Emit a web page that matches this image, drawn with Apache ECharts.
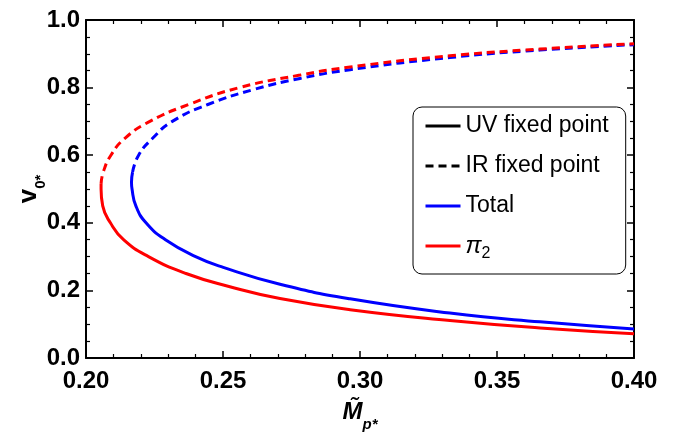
<!DOCTYPE html>
<html>
<head>
<meta charset="utf-8">
<script src="https://cdn.jsdelivr.net/npm/echarts@6/dist/echarts.min.js"></script>
<style>html,body{margin:0;padding:0;background:#fff}#c{width:686px;height:441px}</style>
</head>
<body>
<div id="c"></div>
<script>
// Data: [M_p*, v_0*]
const totalUV = [[0.2170,0.55],[0.2166,0.52],[0.2168,0.50],[0.2182,0.45],[0.2219,0.40],[0.2290,0.35],[0.2400,0.30],[0.2501,0.268],[0.2708,0.218],[0.2964,0.175],[0.3328,0.133],[0.3657,0.107],[0.40,0.086]];
const totalIR = [[0.2170,0.55],[0.2192,0.60],[0.2243,0.65],[0.2315,0.70],[0.2445,0.75],[0.2615,0.795],[0.2781,0.827],[0.2964,0.853],[0.3328,0.889],[0.3657,0.911],[0.40,0.927]];
const pi2UV = [[0.2055,0.515],[0.2055,0.50],[0.2061,0.45],[0.2089,0.40],[0.2137,0.35],[0.2228,0.30],[0.2365,0.25],[0.2525,0.211],[0.2708,0.176],[0.2964,0.143],[0.3328,0.111],[0.3657,0.089],[0.40,0.072]];
const pi2IR = [[0.2055,0.515],[0.2063,0.55],[0.2091,0.60],[0.2142,0.65],[0.2233,0.70],[0.2375,0.75],[0.2560,0.80],[0.2781,0.837],[0.2964,0.861],[0.3328,0.894],[0.3657,0.914],[0.40,0.930]];
const legendNames = ['UV fixed point','IR fixed point','Total','π2'];
const xTicks = {min:0.2, max:0.4, interval:0.05};
const yTicks = {min:0, max:1.0, interval:0.2};

const chart = echarts.init(document.getElementById('c'));
const FONT = 'Liberation Sans';
const lbl = {color:'#000', fontFamily:FONT, fontWeight:'bold', fontSize:24};
const axisLine = {show:true, onZero:false, lineStyle:{color:'#000', width:2}};
function xAx(pos, show){
  return {type:'value', position:pos, min:xTicks.min, max:xTicks.max, interval:xTicks.interval,
    axisLine:axisLine, splitLine:{show:false},
    axisTick:{show:true, inside:true, length:7, lineStyle:{color:'#000', width:1.5}},
    minorTick:{show:true, splitNumber:5, length:4, lineStyle:{color:'#000', width:1.2}},
    axisLabel:Object.assign({show:show, margin:11, formatter:v=>v.toFixed(2)}, lbl),
    name: show ? '{m|M̃}{s|p*}' : '', nameLocation:'middle', nameGap:42, nameMoveOverlap:false,
    nameTextStyle:{rich:{m:{fontFamily:FONT, fontWeight:'bold', fontStyle:'italic', fontSize:24, color:'#000'},
                         s:{fontFamily:FONT, fontWeight:'bold', fontStyle:'italic', fontSize:15, color:'#000', verticalAlign:'bottom', padding:[0,0,-8,0]}}}
  };
}
function yAx(pos, show){
  return {type:'value', position:pos, min:yTicks.min, max:yTicks.max, interval:yTicks.interval,
    axisLine:axisLine, splitLine:{show:false},
    axisTick:{show:true, inside:true, length:7, lineStyle:{color:'#000', width:1.5}},
    minorTick:{show:true, splitNumber:4, length:4, lineStyle:{color:'#000', width:1.2}},
    axisLabel:Object.assign({show:show, margin:6, formatter:v=>v.toFixed(1)}, lbl),
    name: show ? '{v|v}{s|0*}' : '', nameLocation:'middle', nameGap:44, nameRotate:90, nameMoveOverlap:false,
    nameTextStyle:{rich:{v:{fontFamily:FONT, fontWeight:'bold', fontSize:26, color:'#000'},
                         s:{fontFamily:FONT, fontWeight:'bold', fontSize:15, color:'#000', verticalAlign:'bottom', padding:[0,0,-6,0]}}}
  };
}
const dash = [8,5];
function ser(name, data, color, type){
  return {name:name, type:'line', data:data, symbol:'none', smooth:0.5,
    lineStyle:{color:color, width:3, type:type}, itemStyle:{color:color}, clip:true, z:3};
}
chart.setOption({
  animation:false,
  backgroundColor:'#fff',
  grid:{left:86, top:20, right:52, bottom:83, outerBoundsMode:'none', containLabel:false},
  xAxis:[xAx('bottom', true), xAx('top', false)],
  yAxis:[yAx('left', true), yAx('right', false)],
  legend:{
    data:legendNames, orient:'vertical', left:413, top:107,
    itemWidth:35, itemHeight:14, itemGap:16, itemTextGap:18,
    padding:[7,17,12,11], borderColor:'#000', borderWidth:1, borderRadius:9, backgroundColor:'#fff',
    selectedMode:false,
    itemStyle:{opacity:0},
    lineStyle:{width:3},
    textStyle:{fontFamily:FONT, fontSize:23, color:'#000', lineHeight:24,
      rich:{i:{fontFamily:FONT, fontSize:24, fontStyle:'italic', color:'#000', lineHeight:24},
            s:{fontFamily:FONT, fontSize:16, color:'#000', verticalAlign:'bottom', lineHeight:24, padding:[0,0,-4,0]}}},
    formatter:n => n==='π2' ? '{i|π}{s|2}' : n
  },
  series:[
    ser('UV fixed point', [], '#000', 'solid'),
    ser('IR fixed point', [], '#000', dash),
    ser('Total', totalUV, '#0000ff', 'solid'),
    ser('π2', pi2UV, '#ff0000', 'solid'),
    ser('Total', totalIR, '#0000ff', dash),
    ser('π2', pi2IR, '#ff0000', dash)
  ]
});
</script>
</body>
</html>
